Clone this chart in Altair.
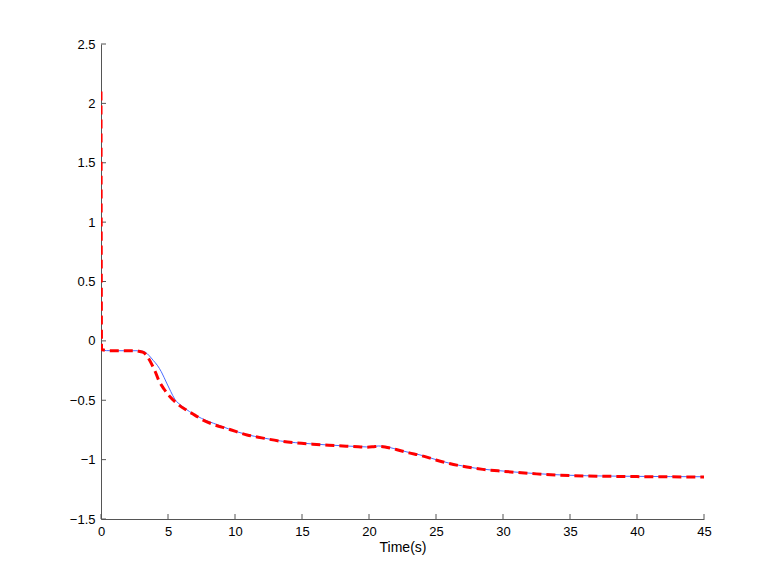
import altair as alt
import pandas as pd

# Blue (solid) series
blue_t = [0, 0.15, 0.4, 1, 2, 2.7, 3.0, 3.3, 3.6, 3.9, 4.2, 4.5, 4.9, 5.2, 5.5, 6.0, 6.6, 7.2, 7.8, 8.4,
          9.5, 10.9, 12, 13.4, 14.5, 15.8, 17, 18.3, 19.2, 19.8, 20.3, 20.7, 21.2, 21.8, 22.3, 23,
          23.8, 25, 26, 27.3, 28.5, 30, 32.5, 35, 37.5, 40, 42.5, 45]
blue_y = [-0.05, -0.075, -0.082, -0.083, -0.083, -0.083, -0.085, -0.095, -0.125, -0.165, -0.205, -0.26,
          -0.355, -0.425, -0.49, -0.545, -0.595, -0.635, -0.668, -0.694,
          -0.74, -0.79, -0.815, -0.843, -0.857, -0.868, -0.877, -0.885, -0.89, -0.893, -0.89, -0.885,
          -0.89, -0.905, -0.92, -0.94, -0.96, -1.0, -1.03, -1.06, -1.08, -1.096, -1.118, -1.132,
          -1.138, -1.141, -1.143, -1.144]

# Red (dashed) series
red_t = [0, 0.04, 0.1, 0.5, 1, 2, 2.6, 2.9, 3.2, 3.5, 3.8, 4.05, 4.3, 4.7, 5.15, 5.7, 6.4, 7.0, 7.5, 8.3,
         9.5, 10.9, 12, 13.4, 14.5, 15.8, 17, 18.3, 19.2, 19.8, 20.3, 20.7, 21.2, 21.8, 22.3, 23,
         23.8, 25, 26, 27.3, 28.5, 30, 32.5, 35, 37.5, 40, 42.5, 45]
red_y = [2.1, -0.06, -0.075, -0.082, -0.083, -0.083, -0.083, -0.09, -0.1, -0.14, -0.2, -0.26, -0.33,
         -0.405, -0.47, -0.53, -0.585, -0.625, -0.66, -0.7,
         -0.742, -0.792, -0.817, -0.845, -0.859, -0.87, -0.879, -0.887, -0.892, -0.895, -0.892, -0.888,
         -0.893, -0.908, -0.923, -0.943, -0.963, -1.003, -1.033, -1.062, -1.082, -1.098, -1.12, -1.134,
         -1.14, -1.143, -1.145, -1.146]

x_ticks = [0, 5, 10, 15, 20, 25, 30, 35, 40, 45]
y_ticks = [-1.5, -1, -0.5, 0, 0.5, 1, 1.5, 2, 2.5]

W, H = 603, 475
blue_df = pd.DataFrame({"t": blue_t, "v": blue_y})
red_df = pd.DataFrame({"t": red_t, "v": red_y})
xt_df = pd.DataFrame({"t": x_ticks})
yt_df = pd.DataFrame({"v": y_ticks})

xscale = alt.Scale(domain=[0, 45], nice=False, zero=False)
yscale = alt.Scale(domain=[-1.5, 2.5], nice=False, zero=False)

xaxis = alt.Axis(values=x_ticks, format="~g", title="Time(s)", grid=False, tickSize=0,
                 labelPadding=6, labelFlush=False, domainColor="#555555", labelColor="#000000",
                 labelFont="Liberation Sans", labelFontSize=13, titleFont="Liberation Sans",
                 titleFontSize=14, titleFontWeight="normal", titleColor="#000000", titlePadding=2)
yaxis = alt.Axis(values=y_ticks, format="~g", title=None, grid=False, tickSize=0,
                 labelPadding=6, labelFlush=False, domainColor="#555555", labelColor="#000000",
                 labelFont="Liberation Sans", labelFontSize=13)

blue = alt.Chart(blue_df).mark_line(color="#4a6cff", strokeWidth=1, clip=True,
                                    interpolate="monotone").encode(
    x=alt.X("t:Q", scale=xscale, axis=xaxis),
    y=alt.Y("v:Q", scale=yscale, axis=yaxis),
)
red = alt.Chart(red_df).mark_line(color="#ff0000", strokeWidth=3, strokeDash=[9, 5], clip=True,
                                  interpolate="monotone").encode(
    x=alt.X("t:Q", scale=xscale),
    y=alt.Y("v:Q", scale=yscale),
)
xticks = alt.Chart(xt_df).mark_rule(color="#555555", strokeWidth=1).encode(
    x=alt.X("t:Q", scale=xscale),
    y=alt.value(H), y2=alt.value(H - 5),
)
yticks = alt.Chart(yt_df).mark_rule(color="#555555", strokeWidth=1).encode(
    y=alt.Y("v:Q", scale=yscale),
    x=alt.value(0), x2=alt.value(5),
)

chart = alt.layer(xticks, yticks, blue, red).properties(
    width=W, height=H,
    autosize=alt.AutoSizeParams(type="none"),
    padding={"left": 93, "top": 36, "right": 65, "bottom": 57},
).configure(background="white").configure_view(strokeWidth=0, stroke="transparent")

chart.save("out.html", embed_options={"renderer": "svg", "actions": False})
